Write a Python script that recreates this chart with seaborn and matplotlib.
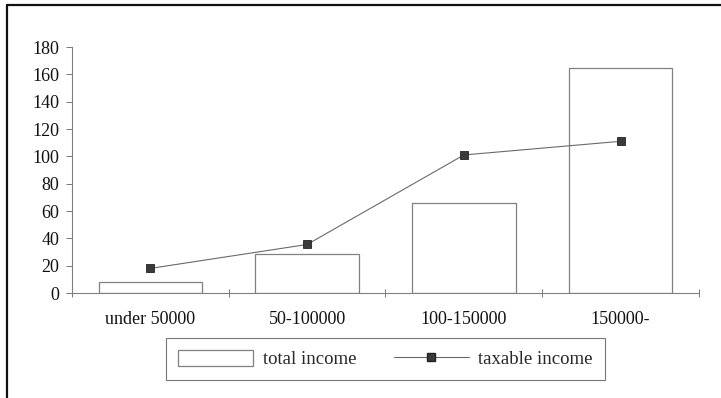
import matplotlib
matplotlib.use("Agg")
import matplotlib.pyplot as plt
from matplotlib.lines import Line2D
from matplotlib.patches import Patch
from matplotlib.ticker import FixedLocator
import seaborn as sns
import pandas as pd

# Income brackets and their values
categories = ["under 50000", "50-100000", "100-150000", "150000-"]
total_income = [8, 28.5, 66, 164.5]
taxable_income = [18, 35.5, 101, 111]
y_ticks = [0, 20, 40, 60, 80, 100, 120, 140, 160, 180]

df = pd.DataFrame({"bracket": categories,
                   "total": total_income,
                   "taxable": taxable_income})

sns.set_theme(style="white")
plt.rcParams["font.family"] = ["Liberation Serif", "DejaVu Serif"]

fig = plt.figure(figsize=(7.21, 3.98), dpi=100)
ax = fig.add_axes([72 / 721, 105 / 398, 627 / 721, 246 / 398])

bar_edge = "#808080"
line_col = "#6a6a6a"

sns.barplot(data=df, x="bracket", y="total", color="white",
            edgecolor=bar_edge, linewidth=0.9, width=0.66,
            saturation=1, ax=ax)
sns.pointplot(data=df, x="bracket", y="taxable", color=line_col,
              markers="s", markersize=6, linewidth=0.8, ax=ax)
for ln in ax.lines:
    ln.set_markerfacecolor("#3a3a3a")
    ln.set_markeredgecolor("#222222")
    ln.set_markeredgewidth(0.6)

ax.set_xlim(-0.5, len(categories) - 0.5)
ax.set_ylim(0, 180)
ax.set_yticks(y_ticks)
ax.set_xlabel("")
ax.set_ylabel("")

# tick marks on the category boundaries, labels at the centres
ax.xaxis.set_minor_locator(FixedLocator([i - 0.5 for i in range(len(categories) + 1)]))
ax.tick_params(axis="x", which="major", length=0, pad=13, labelsize=13,
               colors="#111111")
ax.tick_params(axis="x", which="minor", direction="inout", length=6,
               width=0.7, color="#777777", bottom=True)
ax.tick_params(axis="y", which="major", direction="out", length=4,
               width=0.7, color="#777777", pad=5, labelsize=13,
               labelcolor="#111111", left=True)

for side in ("top", "right"):
    ax.spines[side].set_visible(False)
for side in ("left", "bottom"):
    ax.spines[side].set_color("#808080")
    ax.spines[side].set_linewidth(0.8)

handles = [
    Patch(facecolor="white", edgecolor=bar_edge, linewidth=0.9),
    Line2D([], [], color=line_col, linewidth=0.8, marker="s", markersize=6,
           markerfacecolor="#3a3a3a", markeredgecolor="#222222"),
]
leg = fig.legend(handles, ["total income", "taxable income"], ncol=2,
                 loc="center", bbox_to_anchor=(385.5 / 721, 1 - 359 / 398),
                 fontsize=13.5, frameon=True, fancybox=False, shadow=False,
                 handlelength=4.0, handleheight=0.95, handletextpad=0.5,
                 columnspacing=2.0, borderpad=0.65, numpoints=1,
                 edgecolor="#777777", framealpha=1)
leg.get_frame().set_linewidth(0.8)

# outer chart-area frame
fig.add_artist(Line2D([7 / 721, 7 / 721], [0, 1 - 5 / 398], color="#111111",
                      linewidth=1.6, transform=fig.transFigure))
fig.add_artist(Line2D([7 / 721, 1], [1 - 5 / 398, 1 - 5 / 398], color="#111111",
                      linewidth=1.6, transform=fig.transFigure))

fig.savefig("out.png", dpi=100, facecolor="white")
